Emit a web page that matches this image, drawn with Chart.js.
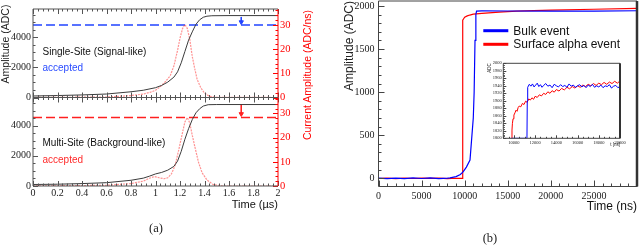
<!DOCTYPE html>
<html>
<head>
<meta charset="utf-8">
<script src="https://cdn.jsdelivr.net/npm/chart.js@4.4.0/dist/chart.umd.min.js"></script>
<style>
  body { margin: 0; background: #fff; }
  #wrap { position: relative; width: 640px; height: 245px; overflow: hidden; background: #fff;
          font-family: 'Liberation Sans', Arial, sans-serif; }
  #wrap canvas { position: absolute; }
  .t { position: absolute; white-space: nowrap; line-height: 1; }
  .rot { transform: translate(-50%, -50%) rotate(-90deg); }
  .cap { transform: translate(-50%, -50%); font-family: 'Liberation Serif', serif; font-size: 12.5px; color: #222; }
</style>
</head>
<body>
<div id="wrap">
  <canvas id="aTop" width="320" height="245" style="left:0;top:0"></canvas>
  <canvas id="aBot" width="320" height="245" style="left:0;top:0"></canvas>
  <canvas id="bMain" width="312" height="245" style="left:328px;top:0"></canvas>
  <canvas id="bInset" width="152" height="105" style="left:478px;top:55px"></canvas>

  <div class="t rot" style="left:4.5px;top:43.5px;font-size:10.5px;color:#222">Amplitude (ADC)</div>
  <div class="t rot" style="left:306.7px;top:74.5px;font-size:10.5px;color:#ff0000">Current Amplitude (ADC/ns)</div>
  <div class="t" style="left:42.5px;top:47px;font-size:10px;color:#111">Single-Site (Signal-like)</div>
  <div class="t" style="left:42.5px;top:62.7px;font-size:10px;color:#2a4cff">accepted</div>
  <div class="t" style="left:42.5px;top:138px;font-size:10px;color:#111">Multi-Site (Background-like)</div>
  <div class="t" style="left:42.5px;top:155px;font-size:10px;color:#ff2a2a">accepted</div>
  <div class="t rot" style="left:349px;top:46px;font-size:12px;color:#222">Amplitude (ADC)</div>
  <div class="t cap" style="left:156px;top:228px">(a)</div>
  <div class="t cap" style="left:490px;top:237.5px">(b)</div>
</div>
<script>
// ---- panel (a): pulse shape discrimination, time in µs ----
const A_TIME_TICKS = [0, 0.2, 0.4, 0.6, 0.8, 1, 1.2, 1.4, 1.6, 1.8, 2];
const A_AMP_TICKS = [0, 2000, 4000];
const A_CUR_TICKS = [0, 10, 20, 30];

const SS_T   = [0, 0.2, 0.4, 0.6, 0.8, 0.9, 1.0, 1.05, 1.1, 1.15, 1.18, 1.21, 1.24, 1.27, 1.3, 1.33, 1.36, 1.39, 1.42, 1.46, 1.6, 2.0];
const SS_AMP = [100, 130, 170, 230, 380, 480, 650, 800, 1020, 1350, 1700, 2300, 3050, 3800, 4350, 4850, 5150, 5320, 5390, 5420, 5430, 5430];
const SS_CUR_T = [0, 0.6, 0.8, 0.9, 0.96, 1.0, 1.04, 1.08, 1.12, 1.15, 1.18, 1.2, 1.22, 1.24, 1.26, 1.28, 1.3, 1.32, 1.34, 1.37, 1.4, 1.44, 1.5, 2.0];
const SS_CUR   = [0, 0.2, 0.8, 1.4, 2.2, 3, 4.5, 6.5, 9, 13, 19.5, 24.5, 28.4, 30.2, 28.5, 24, 17, 12, 7.5, 4, 1.8, 0.5, 0.1, 0];

const MS_T   = [0, 0.2, 0.4, 0.6, 0.8, 0.9, 0.95, 1.0, 1.05, 1.1, 1.15, 1.18, 1.21, 1.24, 1.27, 1.3, 1.33, 1.36, 1.39, 1.43, 1.5, 2.0];
const MS_AMP = [100, 120, 160, 220, 380, 520, 650, 800, 900, 1050, 1300, 1650, 2300, 3100, 3800, 4400, 4850, 5120, 5300, 5390, 5400, 5400];
const MS_CUR_T = [0, 0.6, 0.8, 0.9, 0.95, 0.99, 1.03, 1.07, 1.1, 1.13, 1.16, 1.19, 1.22, 1.24, 1.26, 1.28, 1.3, 1.32, 1.35, 1.38, 1.42, 1.47, 1.55, 2.0];
const MS_CUR   = [0, 0.3, 1, 2, 3.2, 3.9, 3.4, 3.0, 3.4, 5, 8.5, 15, 22, 26.5, 28.3, 26, 21, 16.5, 10, 5.5, 2.5, 0.6, 0, 0];

const CUT_T = [0, 2];
const SS_CUT = 30.0;
const MS_CUT = 28.3;
const ARROW_T = [1.7, 1.7];
const SS_ARROW = [33.3, 31.2];
const MS_ARROW = [33.9, 29.8];

// ---- panel (b): bulk vs surface alpha, time in ns ----
const B_TIME_TICKS = [0, 5000, 10000, 15000, 20000, 25000];
const B_AMP_TICKS = [0, 500, 1000, 1500, 2000];

const BULK_T = [0, 1000, 2000, 3000, 4000, 5000, 6000, 7000, 8000, 8300, 9000, 9500, 9840, 10200, 10620, 11000, 11100, 11200, 11300, 11380, 12000, 15000, 20000, 25000, 30000];
const BULK_Y = [3, -4, 2, -3, 4, -2, 5, -3, 2, 5, 20, 45, 77, 130, 212, 700, 1000, 1600, 1900, 1940, 1944, 1942, 1940, 1940, 1945];
const SURF_T = [0, 1000, 2000, 3000, 4000, 5000, 6000, 7000, 8000, 9000, 9730, 9750, 9770, 9800, 9900, 10000, 10300, 10600, 11000, 12000, 14000, 16000, 18000, 20000, 25000, 30000];
const SURF_Y = [-2, 3, -3, 2, -2, 3, -1, 2, -3, 1, 0, 900, 1800, 1835, 1855, 1870, 1885, 1895, 1905, 1915, 1930, 1940, 1946, 1952, 1962, 1972];

// inset (zoom on the top of the rise)
const IN_TIME_TICKS = [10000, 12000, 14000, 16000, 18000, 20000];
const IN_ADC_TICKS = [1800, 1820, 1840, 1860, 1880, 1900, 1920, 1940, 1960, 1980, 2000];
const IN_BULK_T = [9000, 9800, 11230, 11260, 11300, 11450, 11600, 11750, 11900, 12050, 12200, 12350, 12500, 12650, 12800, 13000, 13200, 13400, 13600, 13800, 14000, 14200, 14400, 14600, 14800, 15000, 15200, 15400, 15600, 15800, 16000, 16200, 16400, 16600, 16800, 17000, 17200, 17400, 17600, 17800, 18000, 18200, 18400, 18600, 18800, 19000, 19200, 19400, 19600, 19800, 20000];
const IN_BULK_Y = [1790, 1800, 1800, 1900, 1936, 1944, 1939, 1945, 1937, 1942, 1947, 1938, 1943, 1936, 1941, 1946, 1939, 1942, 1935, 1944, 1940, 1937, 1943, 1938, 1941, 1936, 1945, 1939, 1942, 1936, 1940, 1943, 1937, 1941, 1935, 1942, 1938, 1944, 1936, 1940, 1937, 1942, 1935, 1940, 1938, 1943, 1934, 1939, 1941, 1935, 1938];
const IN_SURF_T = [9790, 9820, 9860, 9920, 10000, 10100, 10200, 10300, 10400, 10500, 10650, 10800, 10950, 11100, 11250, 11400, 11550, 11700, 11850, 12000, 12200, 12400, 12600, 12800, 13000, 13200, 13400, 13600, 13800, 14000, 14250, 14500, 14750, 15000, 15250, 15500, 15750, 16000, 16250, 16500, 16750, 17000, 17250, 17500, 17750, 18000, 18250, 18500, 18750, 19000, 19250, 19500, 19750, 20000];
const IN_SURF_Y = [1800, 1822, 1840, 1852, 1862, 1868, 1875, 1872, 1882, 1886, 1884, 1893, 1890, 1899, 1896, 1905, 1902, 1908, 1904, 1912, 1909, 1916, 1913, 1920, 1917, 1924, 1920, 1927, 1923, 1930, 1926, 1933, 1929, 1936, 1932, 1938, 1934, 1940, 1936, 1942, 1938, 1944, 1940, 1946, 1941, 1947, 1943, 1949, 1944, 1950, 1946, 1952, 1947, 1953];

const SANS = "'Liberation Sans', Arial, sans-serif";
const SERIF = "'Liberation Serif', 'Times New Roman', serif";
const BLUE = '#0000ff';
const RED = '#ff0000';

function pts(xs, ys) { return xs.map((x, i) => ({ x, y: ys[i] })); }
function fixBox(size, horizontal) {
  return s => {
    if (horizontal) s.height = size; else s.width = size;
    s.paddingLeft = s.paddingRight = s.paddingTop = s.paddingBottom = 0;
  };
}
// tick positions come from the arrays above, not from chart.js' generator
function setTicks(values) {
  return s => { s.ticks = values.map(v => ({ value: v })); };
}
const plain = v => String(v);

// ROOT-like tick marks pointing into the frame
const innerTicks = {
  id: 'innerTicks',
  afterDatasetsDraw(chart, args, opts) {
    if (!opts.marks) return;
    const { ctx, chartArea: a } = chart;
    opts.marks.forEach(m => {
      const s = chart.scales[m.scale];
      ctx.save();
      ctx.strokeStyle = m.color;
      ctx.lineWidth = 1;
      ctx.beginPath();
      const i0 = Math.ceil(s.min / m.step - 1e-6), i1 = Math.floor(s.max / m.step + 1e-6);
      for (let i = i0; i <= i1; i++) {
        const p = Math.round(s.getPixelForValue(i * m.step)) + 0.5;
        const l = (i % m.every === 0) ? m.len : m.len * 0.5;
        if (m.edge === 'bottom') { ctx.moveTo(p, a.bottom); ctx.lineTo(p, a.bottom - l); }
        if (m.edge === 'top') { ctx.moveTo(p, a.top); ctx.lineTo(p, a.top + l); }
        if (m.edge === 'left') { ctx.moveTo(a.left, p); ctx.lineTo(a.left + l, p); }
        if (m.edge === 'right') { ctx.moveTo(a.right, p); ctx.lineTo(a.right - l, p); }
      }
      ctx.stroke();
      ctx.restore();
    });
  }
};

const frame = {
  id: 'frame',
  afterDatasetsDraw(chart, args, o) {
    if (!o.sides) return;
    const { ctx, chartArea: a } = chart;
    const L = a.left, R = a.right, T = a.top, B = a.bottom;
    const seg = { top: [L, T, R, T], bottom: [L, B, R, B], left: [L, T, L, B], right: [R, T, R, B] };
    ctx.save();
    Object.keys(o.sides).forEach(k => {
      const [c, w] = o.sides[k];
      const [x1, y1, x2, y2] = seg[k];
      ctx.strokeStyle = c; ctx.lineWidth = w;
      ctx.beginPath(); ctx.moveTo(x1, y1); ctx.lineTo(x2, y2); ctx.stroke();
    });
    ctx.restore();
  }
};

const lineLegend = {
  id: 'lineLegend',
  afterDraw(chart, args, o) {
    if (!o.x) return;
    const { ctx, chartArea: a } = chart;
    ctx.save();
    ctx.font = o.font;
    ctx.textBaseline = 'middle';
    chart.data.datasets.forEach((ds, i) => {
      const x = a.left + o.x, y = a.top + o.y + i * o.gap;
      ctx.strokeStyle = ds.borderColor; ctx.lineWidth = 3;
      ctx.beginPath(); ctx.moveTo(x, y); ctx.lineTo(x + o.len, y); ctx.stroke();
      ctx.fillStyle = '#111';
      ctx.fillText(ds.label, x + o.len + 5, y + 0.5);
    });
    ctx.restore();
  }
};

Chart.register(innerTicks, frame, lineLegend);

const noGrid = { display: false, drawTicks: false };
const noBorder = { display: false };
const aFrame = { top: ['#555', 1], left: ['#555', 1], bottom: ['#555', 1], right: [RED, 1] };

function panelA(id, amp, ampT, cur, curT, cutColor, cut, arrow, withX) {
  const xAxis = withX
    ? { type: 'linear', min: 0, max: 2, afterFit: fixBox(25.6, true), afterBuildTicks: setTicks(A_TIME_TICKS),
        ticks: { padding: 1, autoSkip: false, maxRotation: 0, callback: plain,
                 font: { family: SERIF, size: 10 }, color: '#222' },
        grid: noGrid, border: noBorder,
        title: { display: true, text: 'Time (µs)', align: 'end', padding: 0,
                 font: { family: SANS, size: 11 }, color: '#111' } }
    : { type: 'linear', min: 0, max: 2, afterFit: fixBox(0, true),
        ticks: { display: false }, grid: noGrid, border: noBorder };
  return new Chart(document.getElementById(id), {
    type: 'line',
    data: {
      datasets: [
        { data: pts(ampT, amp), yAxisID: 'y', borderColor: '#3c3c3c', borderWidth: 1 },
        { data: pts(curT, cur), yAxisID: 'y2', borderColor: 'rgba(255,40,40,0.5)', borderWidth: 1.2, borderDash: [2, 1] },
        { data: pts(CUT_T, [cut, cut]), yAxisID: 'y2', borderColor: cutColor, borderWidth: 1.4, borderDash: [9, 4] },
        { data: pts(ARROW_T, arrow), yAxisID: 'y2', borderColor: cutColor, borderWidth: 1,
          pointRadius: [0, 2.5], pointStyle: 'triangle', pointRotation: 180,
          pointBackgroundColor: cutColor, pointBorderColor: cutColor }
      ]
    },
    options: {
      responsive: false,
      animation: false,
      layout: { autoPadding: false,
                padding: withX ? { left: 0, right: 0, top: 97.5, bottom: 33.4 }
                               : { left: 0, right: 0, top: 9, bottom: 147.5 } },
      elements: { point: { radius: 0 }, line: { tension: 0 } },
      plugins: {
        legend: { display: false }, tooltip: { enabled: false },
        frame: { sides: aFrame },
        innerTicks: { marks: [
          { scale: 'x', edge: 'bottom', step: 0.04, every: 5, len: 5, color: '#555' },
          { scale: 'x', edge: 'top', step: 0.04, every: 5, len: 5, color: '#555' },
          { scale: 'y', edge: 'left', step: 500, every: 4, len: 5, color: '#555' },
          { scale: 'y2', edge: 'right', step: 2, every: 5, len: 5, color: RED }
        ] }
      },
      scales: {
        x: xAxis,
        y: { position: 'left', min: 0, max: 5867, afterFit: fixBox(33, false), afterBuildTicks: setTicks(A_AMP_TICKS),
             ticks: { padding: 2, callback: plain, font: { family: SERIF, size: 10 }, color: '#222' },
             grid: noGrid, border: noBorder },
        y2: { position: 'right', min: 0, max: 36.6, afterFit: fixBox(42, false), afterBuildTicks: setTicks(A_CUR_TICKS),
              ticks: { padding: 2, callback: plain, font: { family: SERIF, size: 10.5 }, color: RED },
              grid: noGrid, border: noBorder }
      }
    }
  });
}

panelA('aTop', SS_AMP, SS_T, SS_CUR, SS_CUR_T, '#2244ff', SS_CUT, SS_ARROW, false);
panelA('aBot', MS_AMP, MS_T, MS_CUR, MS_CUR_T, '#ff2020', MS_CUT, MS_ARROW, true);

new Chart(document.getElementById('bMain'), {
  type: 'line',
  data: {
    datasets: [
      { label: 'Bulk event', data: pts(BULK_T, BULK_Y), borderColor: BLUE, borderWidth: 1.2 },
      { label: 'Surface alpha event', data: pts(SURF_T, SURF_Y), borderColor: RED, borderWidth: 1.2 }
    ]
  },
  options: {
    responsive: false,
    animation: false,
    layout: { autoPadding: false, padding: { left: 0, right: 3, top: 1, bottom: 30.8 } },
    elements: { point: { radius: 0 }, line: { tension: 0 } },
    plugins: {
      legend: { display: false }, tooltip: { enabled: false },
      frame: { sides: { top: ['#444', 1], left: ['#444', 1], bottom: ['#444', 1], right: ['#333', 2.5] } },
      innerTicks: { marks: [
        { scale: 'x', edge: 'bottom', step: 1000, every: 5, len: 6, color: '#444' },
        { scale: 'y', edge: 'left', step: 100, every: 5, len: 6, color: '#444' }
      ] },
      lineLegend: { x: 104.8, y: 29.7, gap: 13.6, len: 25, font: "12px 'Liberation Sans', Arial, sans-serif" }
    },
    scales: {
      x: { type: 'linear', min: 0, max: 30000, afterFit: fixBox(27.7, true), afterBuildTicks: setTicks(B_TIME_TICKS),
           ticks: { padding: 4, autoSkip: false, maxRotation: 0, callback: plain,
                    font: { family: SERIF, size: 10 }, color: '#222' },
           grid: noGrid, border: noBorder,
           title: { display: true, text: 'Time (ns)', align: 'end', padding: 0,
                    font: { family: SANS, size: 12 }, color: '#111' } },
      y: { min: -95, max: 2058, afterFit: fixBox(50.5, false), afterBuildTicks: setTicks(B_AMP_TICKS),
           ticks: { padding: 4, callback: plain, font: { family: SERIF, size: 10 }, color: '#222' },
           grid: noGrid, border: noBorder }
    }
  }
});

new Chart(document.getElementById('bInset'), {
  type: 'line',
  data: {
    datasets: [
      { data: pts(IN_BULK_T, IN_BULK_Y), borderColor: BLUE, borderWidth: 1 },
      { data: pts(IN_SURF_T, IN_SURF_Y), borderColor: RED, borderWidth: 1 }
    ]
  },
  options: {
    responsive: false,
    animation: false,
    layout: { autoPadding: false, padding: { left: 9.3, right: 10, top: 8.3, bottom: 12.3 } },
    elements: { point: { radius: 0 }, line: { tension: 0 } },
    plugins: {
      legend: { display: false }, tooltip: { enabled: false },
      frame: { sides: { top: ['#444', 1], left: ['#444', 1], bottom: ['#444', 1], right: ['#333', 2] } },
      innerTicks: { marks: [
        { scale: 'x', edge: 'bottom', step: 500, every: 4, len: 3, color: '#444' },
        { scale: 'y', edge: 'left', step: 5, every: 4, len: 3, color: '#444' }
      ] }
    },
    scales: {
      x: { type: 'linear', min: 9000, max: 20000, afterFit: fixBox(9.4, true), afterBuildTicks: setTicks(IN_TIME_TICKS),
           ticks: { padding: 1.5, autoSkip: false, maxRotation: 0, callback: plain,
                    font: { family: SERIF, size: 4.5 }, color: '#222' },
           grid: noGrid, border: noBorder,
           title: { display: true, text: 't [ns]', align: 'end', padding: 0,
                    font: { family: SANS, size: 4.5 }, color: '#222' } },
      y: { min: 1800, max: 2000, afterFit: fixBox(16, false), afterBuildTicks: setTicks(IN_ADC_TICKS),
           ticks: { padding: 1.5, autoSkip: false, callback: plain,
                    font: { family: SERIF, size: 4.5 }, color: '#222' },
           grid: noGrid, border: noBorder,
           title: { display: true, text: 'ADC', align: 'end', padding: 0,
                    font: { family: SANS, size: 4.5 }, color: '#222' } }
    }
  }
});
</script>
</body>
</html>
